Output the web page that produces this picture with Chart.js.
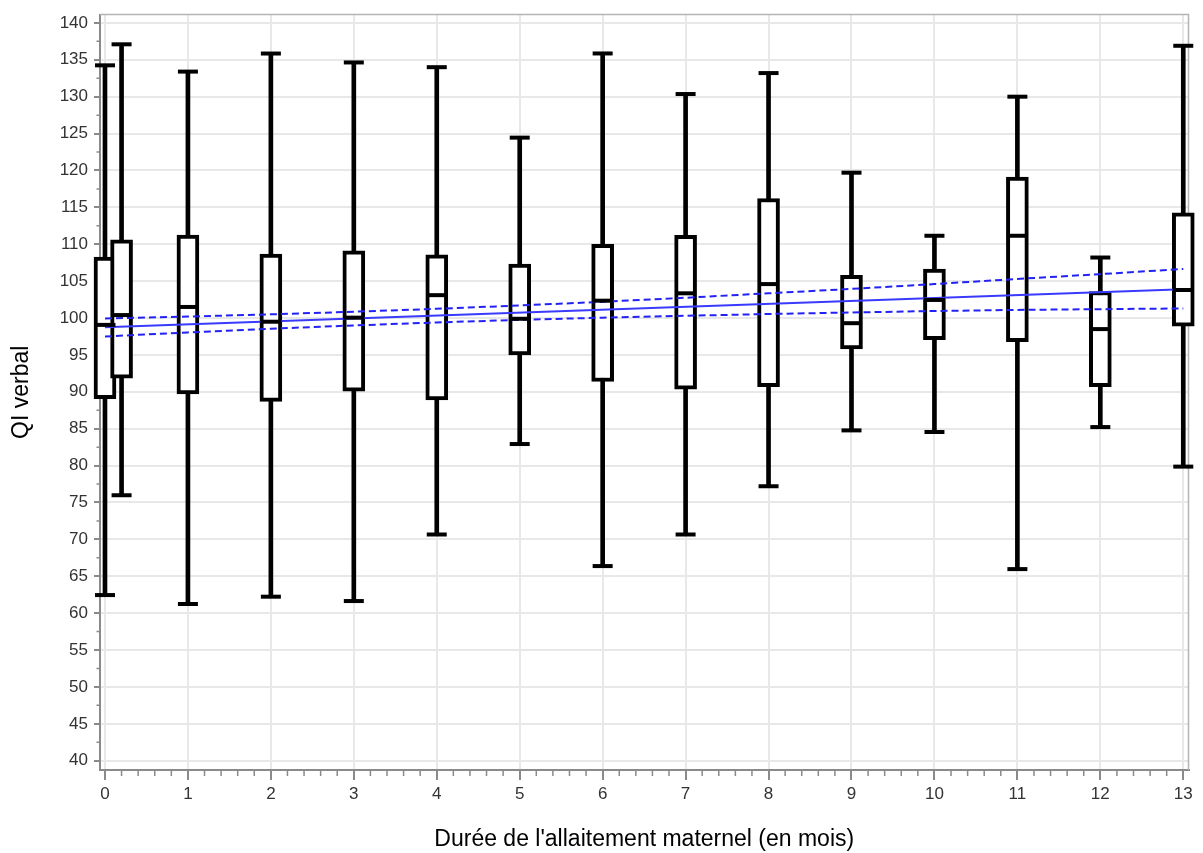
<!DOCTYPE html>
<html lang="fr">
<head>
<meta charset="utf-8">
<title>QI verbal et allaitement maternel</title>
<script src="https://cdn.jsdelivr.net/npm/chart.js@4.4.1/dist/chart.umd.min.js"></script>
<style>
  html, body { margin: 0; padding: 0; background: #ffffff; }
  #wrap { width: 1203px; height: 853px; }
</style>
</head>
<body>
<div id="wrap"><canvas id="grafico" width="1203" height="853"></canvas></div>
<script>
// Boîtes à moustaches
const mois          = [0, 0.2, 1, 2, 3, 4, 5, 6, 7, 8, 9, 10, 11, 12, 13];
const moustacheBas  = [62.45, 75.98, 61.24, 62.23, 61.64, 70.66, 82.92, 66.38, 70.66, 77.2, 84.77, 84.55, 65.97, 85.22, 79.86];
const q1            = [89.06, 91.85, 89.7, 88.7, 90.1, 88.9, 95.0, 91.4, 90.35, 90.7, 95.8, 97.05, 96.8, 90.7, 98.9];
const mediane       = [99.07, 100.4, 101.5, 99.5, 100.05, 103.1, 99.9, 102.35, 103.35, 104.6, 99.3, 102.45, 111.15, 98.5, 103.8];
const q3            = [108.25, 110.6, 111.25, 108.67, 109.1, 108.55, 107.3, 110.0, 111.2, 116.2, 105.8, 106.65, 119.1, 103.6, 114.25];
const moustacheHaut = [134.25, 137.1, 133.4, 135.85, 134.64, 134.0, 124.45, 135.86, 130.36, 133.2, 119.7, 111.15, 130.0, 108.2, 136.9];

// Droite de régression + bandes de confiance
const droiteX   = [0, 13];
const droiteY   = [98.75, 103.9];
const bandeX    = [0, 1, 2, 3, 4, 5, 6, 7, 8, 9, 10, 11, 12, 13];
const bandeHaut = [99.95, 100.2, 100.5, 100.85, 101.25, 101.7, 102.2, 102.75, 103.35, 103.95, 104.6, 105.3, 105.95, 106.65];
const bandeBas  = [97.5, 98.05, 98.55, 99.0, 99.4, 99.75, 100.05, 100.3, 100.55, 100.75, 100.95, 101.1, 101.2, 101.3];

// Graduations
const ticksX = [0, 1, 2, 3, 4, 5, 6, 7, 8, 9, 10, 11, 12, 13];
const ticksY = [40, 45, 50, 55, 60, 65, 70, 75, 80, 85, 90, 95, 100, 105, 110, 115, 120, 125, 130, 135, 140];
const minorX = [];
for (let i = 1; i < 65; i++) if (i % 5 !== 0) minorX.push(i / 5);
const minorY = [];
for (let v = 42.5; v < 140; v += 5) minorY.push(v);

Chart.defaults.font.family = '"Liberation Sans", Arial, sans-serif';

// cadre haut/droite du graphique
const cadre = {
  id: 'cadre',
  beforeDatasetsDraw(chart) {
    const { ctx, chartArea: a } = chart;
    ctx.save();
    ctx.strokeStyle = '#b4b4b4';
    ctx.lineWidth = 1.5;
    ctx.beginPath();
    ctx.moveTo(a.left, a.top);
    ctx.lineTo(a.right, a.top);
    ctx.lineTo(a.right, a.bottom);
    ctx.stroke();
    ctx.restore();
  }
};

// petites graduations
const petitsTraits = {
  id: 'petitsTraits',
  beforeDatasetsDraw(chart) {
    const { ctx, chartArea: a, scales } = chart;
    ctx.save();
    ctx.strokeStyle = '#8a8a8a';
    ctx.lineWidth = 1.5;
    ctx.beginPath();
    minorX.forEach(v => {
      const px = scales.x.getPixelForValue(v);
      ctx.moveTo(px, a.bottom);
      ctx.lineTo(px, a.bottom + 6);
    });
    minorY.forEach(v => {
      const py = scales.y.getPixelForValue(v);
      ctx.moveTo(a.left, py);
      ctx.lineTo(a.left - 3.5, py);
    });
    ctx.stroke();
    ctx.restore();
  }
};

const points = (xs, ys) => xs.map((x, i) => ({ x, y: ys[i] }));

const ctx = document.getElementById('grafico').getContext('2d');
const chart = new Chart(ctx, {
  type: 'scatter',
  data: {
    datasets: [
      {
        type: 'scatter',
        label: 'Médiane',
        data: points(mois, mediane),
        pointStyle: 'line',
        pointRadius: 10.5,
        pointBorderWidth: 4,
        pointBorderColor: '#000000',
        order: 0,
        clip: false
      },
      {
        type: 'scatter',
        label: 'Extrémités',
        data: points(mois, moustacheHaut).concat(points(mois, moustacheBas)),
        pointStyle: 'line',
        pointRadius: 10,
        pointBorderWidth: 4,
        pointBorderColor: '#000000',
        order: 1,
        clip: false
      },
      {
        type: 'line',
        label: 'Régression',
        data: points(droiteX, droiteY),
        borderColor: '#3a3aff',
        borderWidth: 2,
        pointRadius: 0,
        order: 2
      },
      {
        type: 'line',
        label: 'IC haut',
        data: points(bandeX, bandeHaut),
        borderColor: '#2222f5',
        borderWidth: 2,
        borderDash: [7, 4],
        pointRadius: 0,
        order: 2
      },
      {
        type: 'line',
        label: 'IC bas',
        data: points(bandeX, bandeBas),
        borderColor: '#2222f5',
        borderWidth: 2,
        borderDash: [7, 4],
        pointRadius: 0,
        order: 2
      },
      {
        type: 'bar',
        label: 'Boîte',
        data: mois.map((x, i) => ({ x, y: [q1[i], q3[i]] })),
        backgroundColor: '#ffffff',
        borderColor: '#000000',
        borderWidth: 4,
        borderSkipped: false,
        barThickness: 22,
        grouped: false,
        order: 3,
        clip: false
      },
      {
        type: 'bar',
        label: 'Moustache',
        data: mois.map((x, i) => ({ x, y: [moustacheBas[i], moustacheHaut[i]] })),
        backgroundColor: '#000000',
        borderWidth: 0,
        barThickness: 4,
        grouped: false,
        order: 4,
        clip: false
      }
    ]
  },
  options: {
    responsive: false,
    animation: false,
    events: [],
    layout: { padding: { top: 10.5, right: 9.7, left: 0, bottom: 0 } },
    plugins: {
      legend: { display: false },
      tooltip: { enabled: false }
    },
    scales: {
      x: {
        type: 'linear',
        min: -0.06,
        max: 13.063,
        offset: false,
        afterBuildTicks: s => { s.ticks = ticksX.map(v => ({ value: v })); },
        afterFit: s => { s.height = 83; s.paddingLeft = 0; s.paddingRight = 0; },
        grid: { color: '#e8e8e8', lineWidth: 2, tickLength: 10, tickColor: '#8a8a8a', tickWidth: 2, offset: false },
        border: { color: '#8a8a8a', width: 2 },
        ticks: { padding: 4, color: '#333333', font: { size: 17 }, maxRotation: 0, autoSkip: false, callback: v => String(v) },
        title: {
          display: true,
          text: "Durée de l'allaitement maternel (en mois)",
          color: '#000000',
          font: { size: 23 },
          padding: { top: 0, bottom: 0 }
        }
      },
      y: {
        type: 'linear',
        min: 38.74,
        max: 141.14,
        afterBuildTicks: s => { s.ticks = ticksY.map(v => ({ value: v })); },
        afterFit: s => { s.width = 100; s.paddingTop = 0; s.paddingBottom = 0; },
        grid: { color: '#e8e8e8', lineWidth: 2, tickLength: 6, tickColor: '#8a8a8a', tickWidth: 2 },
        border: { color: '#8a8a8a', width: 2 },
        ticks: { padding: 6, color: '#333333', font: { size: 17 }, autoSkip: false, callback: v => String(v) },
        title: {
          display: true,
          text: 'QI verbal',
          color: '#000000',
          font: { size: 23 },
          padding: { top: 8, bottom: 0 }
        }
      }
    }
  },
  plugins: [cadre, petitsTraits]
});
</script>
</body>
</html>
